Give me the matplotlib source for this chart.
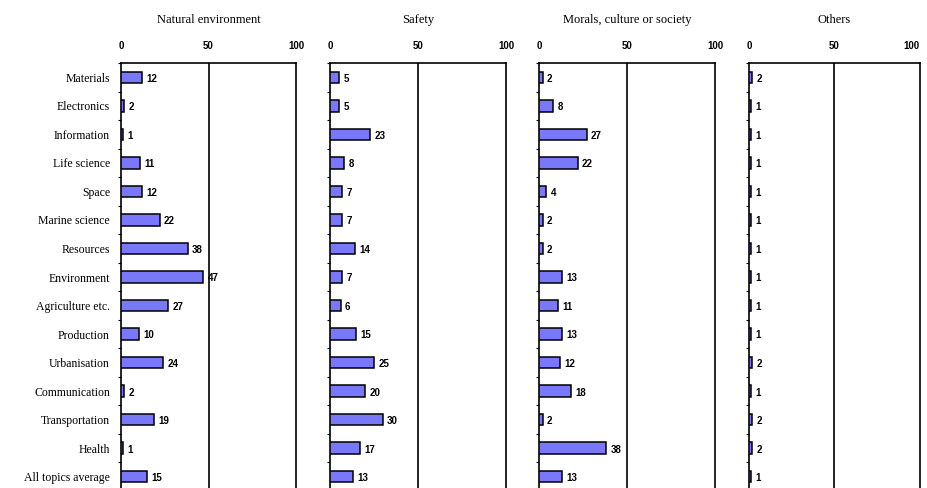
import numpy as np
import matplotlib
matplotlib.use('Agg')
import matplotlib.pyplot as plt
from matplotlib.ticker import FixedLocator

# datos
temas = ['Materials', 'Electronics', 'Information', 'Life science', 'Space',
         'Marine science', 'Resources', 'Environment', 'Agriculture etc.',
         'Production', 'Urbanisation', 'Communication', 'Transportation',
         'Health', 'All topics average']
titulos = ['Natural environment', 'Safety', 'Morals, culture or society', 'Others']
natural = [12, 2, 1, 11, 12, 22, 38, 47, 27, 10, 24, 2, 19, 1, 15]
safety = [5, 5, 23, 8, 7, 7, 14, 7, 6, 15, 25, 20, 30, 17, 13]
morals = [2, 8, 27, 22, 4, 2, 2, 13, 11, 13, 12, 18, 2, 38, 13]
others = [2, 1, 1, 1, 1, 1, 1, 1, 1, 1, 2, 1, 2, 2, 1]
series = [natural, safety, morals, others]

W, H = 928, 488
fig = plt.figure(figsize=(W / 100, H / 100), dpi=100)

# posiciones de cada panel en pixeles (izq, der)
paneles = [(121, 296), (330, 506), (539, 715), (749, 920)]
top_px = 63
bottom_px = 491

y = np.arange(len(temas))
color_barra = '#7878F8'

for i, (vals, tit) in enumerate(zip(series, titulos)):
    x0, x1 = paneles[i]
    ax = fig.add_axes([x0 / W, (H - bottom_px) / H, (x1 - x0) / W, (bottom_px - top_px) / H])
    ax.barh(y, vals, height=0.4, color=color_barra, edgecolor='black', linewidth=1.1, zorder=3)
    ax.set_xlim(0, 100)
    ax.set_ylim(len(temas) - 0.5, -0.5)
    ax.axvline(50, color='black', linewidth=1.2, zorder=1)
    for yy, v in zip(y, vals):
        ax.text(v + 2.5, yy + 0.05, str(v), va='center', ha='left', fontsize=7,
                fontweight='bold', family='Liberation Sans', zorder=4)
    ax.xaxis.tick_top()
    ax.set_xticks([0, 50, 100])
    etiquetas = ax.set_xticklabels(['0', '50', '100'], fontsize=7, fontweight='bold',
                                   family='Liberation Sans')
    if i == 3:
        etiquetas[-1].set_ha('right')
    ax.tick_params(axis='x', length=0, pad=9)
    ax.yaxis.set_minor_locator(FixedLocator(np.arange(-0.5, len(temas), 1)))
    ax.tick_params(axis='y', which='minor', length=2, direction='out', width=0.8)
    ax.tick_params(axis='y', which='major', length=0)
    if i == 0:
        ax.set_yticks(y)
        ax.set_yticklabels(temas, fontsize=8.5, family='Liberation Serif')
        ax.tick_params(axis='y', which='major', pad=8)
    else:
        ax.set_yticks([])
    for s in ax.spines.values():
        s.set_linewidth(1.2)
    fig.text((x0 + x1) / 2 / W, 1 - 20 / H, tit, ha='center', va='center',
             fontsize=9, family='Liberation Serif')

plt.savefig('out.png', dpi=100)
